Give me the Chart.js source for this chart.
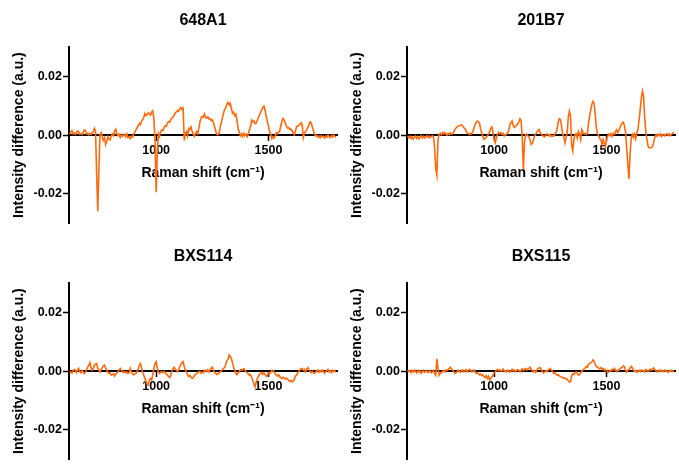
<!DOCTYPE html>
<html>
<head>
<meta charset="utf-8">
<script src="https://cdn.jsdelivr.net/npm/chart.js@4.4.1/dist/chart.umd.min.js"></script>
<style>
  html, body { margin: 0; padding: 0; background: #fff; overflow: hidden; }
  #wrap { position: relative; width: 679px; height: 472px; }
  canvas { position: absolute; }
</style>
</head>
<body>
<div id="wrap">
  <canvas id="p1" width="340" height="269" style="left:0;top:0"></canvas>
  <canvas id="p2" width="340" height="269" style="left:338px;top:0"></canvas>
  <canvas id="p3" width="340" height="269" style="left:0;top:236px"></canvas>
  <canvas id="p4" width="340" height="269" style="left:338px;top:236px"></canvas>
</div>
<script>
// Raman shift (cm-1), shared by all four spectra
const wavenumbers = [
  615, 620, 625, 630, 635, 640, 645, 650, 655, 660,
  665, 670, 675, 680, 685, 690, 695, 700, 705, 710,
  715, 720, 725, 730, 735, 740, 745, 750, 755, 760,
  765, 770, 775, 780, 785, 790, 795, 800, 805, 810,
  815, 820, 825, 830, 835, 840, 845, 850, 855, 860,
  865, 870, 875, 880, 885, 890, 895, 900, 905, 910,
  915, 920, 925, 930, 935, 940, 945, 950, 955, 960,
  965, 970, 975, 980, 985, 990, 995, 1000, 1005, 1010,
  1015, 1020, 1025, 1030, 1035, 1040, 1045, 1050, 1055, 1060,
  1065, 1070, 1075, 1080, 1085, 1090, 1095, 1100, 1105, 1110,
  1115, 1120, 1125, 1130, 1135, 1140, 1145, 1150, 1155, 1160,
  1165, 1170, 1175, 1180, 1185, 1190, 1195, 1200, 1205, 1210,
  1215, 1220, 1225, 1230, 1235, 1240, 1245, 1250, 1255, 1260,
  1265, 1270, 1275, 1280, 1285, 1290, 1295, 1300, 1305, 1310,
  1315, 1320, 1325, 1330, 1335, 1340, 1345, 1350, 1355, 1360,
  1365, 1370, 1375, 1380, 1385, 1390, 1395, 1400, 1405, 1410,
  1415, 1420, 1425, 1430, 1435, 1440, 1445, 1450, 1455, 1460,
  1465, 1470, 1475, 1480, 1485, 1490, 1495, 1500, 1505, 1510,
  1515, 1520, 1525, 1530, 1535, 1540, 1545, 1550, 1555, 1560,
  1565, 1570, 1575, 1580, 1585, 1590, 1595, 1600, 1605, 1610,
  1615, 1620, 1625, 1630, 1635, 1640, 1645, 1650, 1655, 1660,
  1665, 1670, 1675, 1680, 1685, 1690, 1695, 1700, 1705, 1710,
  1715, 1720, 1725, 1730, 1735, 1740, 1745, 1750, 1755, 1760,
  1765, 1770, 1775, 1780, 1785, 1790, 1795, 1800
];

// intensity differences in units of 0.001 a.u.
const diff648A1 = [
  0.3, 1.0, 1.5, 0.4, 0.8, 0.2, 0.6, 1.4, 1.2, 0.3,
  0.5, 0.2, 0.9, 1.8, 1.5, 0.4, 0.6, 0.1, 0.5, 0.2,
  0.9, 1.0, 2.3, 1.5, -13.0, -26.0, -12.0, 0.2, 0.8, -0.5,
  -1.8, -0.9, -3.2, -2.2, -0.6, -1.4, -1.6, -0.3, 0.4, -0.2,
  1.3, 2.0, 0.5, -0.2, 0.3, -0.8, 0.1, -0.4, -0.1, 0.2,
  -0.6, 0.4, -0.9, -0.5, -1.2, -0.4, -0.7, 0.3, 1.0, 1.8,
  2.5, 3.1, 4.0, 3.6, 4.8, 5.3, 6.1, 7.4, 6.6, 7.0,
  7.6, 7.2, 6.8, 7.9, 8.3, 5.5, -2.0, -19.5, -6.0, 0.5,
  -0.5, 1.2, 1.8, 1.5, 2.6, 3.2, 3.0, 4.1, 4.6, 4.4,
  5.3, 5.9, 6.1, 6.8, 7.6, 7.9, 8.4, 8.1, 8.9, 9.4,
  8.7, 9.2, -1.8, 0.5, 1.2, -0.3, 2.3, 1.9, 2.8, 1.4,
  0.3, -0.4, 0.6, 1.2, 0.5, 2.4, 4.6, 5.8, 6.4, 6.1,
  7.2, 6.0, 5.8, 6.2, 5.5, 5.6, 4.9, 5.2, 4.3, 2.9,
  1.4, 0.3, 0.1, 0.6, 2.8, 4.2, 5.9, 7.5, 8.8, 9.4,
  10.6, 11.2, 10.4, 10.8, 9.0, 7.4, 7.8, 6.6, 7.1, 4.9,
  2.1, 1.0, -0.3, 0.4, -0.5, 0.6, -0.2, 0.3, -0.6, 0.2,
  1.8, 2.8, 5.1, 4.5, 4.9, 3.9, 4.1, 5.0, 6.0, 6.8,
  7.9, 8.6, 9.5, 9.9, 8.4, 6.5, 4.6, 3.0, 1.2, 0.2,
  -1.2, -0.5, -1.0, -0.3, 0.8, 0.4, 1.0, 1.4, 3.2, 4.8,
  5.7, 5.1, 4.0, 3.0, 2.4, 2.6, 1.9, 2.1, 1.5, 0.7,
  0.1, 1.4, 2.8, 3.0, 3.4, 3.6, 4.2, 3.5, -0.9, 0.6,
  1.2, 1.8, 2.6, 3.4, 4.5, 4.2, 2.9, 1.4, 0.3, -0.3,
  -0.1, -0.7, -0.3, -0.9, -0.2, -0.6, -0.4, -1.0, -0.3, -0.7,
  0.1, -0.5, -0.9, -0.2, -0.6, 0.1, -0.4, -0.8
];

const diff201B7 = [
  -0.3, -0.9, -0.4, -1.2, -0.6, -1.4, -0.8, -0.3, -1.1, -0.5,
  -1.3, -0.7, -0.2, -0.9, -0.4, -1.0, -0.6, -0.2, -0.8, -0.3,
  -0.9, -0.5, -0.2, -0.6, -4.5, -11.5, -13.7, -1.5, 0.2, 0.6,
  0.1, 0.8, 0.3, 0.9, 0.4, 0.0, 0.6, 0.2, 0.7, 0.3,
  0.5, 1.0, 1.9, 2.4, 2.8, 3.1, 3.2, 3.4, 3.5, 3.1,
  2.6, 2.2, 1.4, 0.8, 0.5, 0.2, 0.6, 0.4, 1.2, 2.4,
  3.6, 4.4, 4.8, 4.5, 3.9, 2.0, 0.6, -0.6, -1.5, -1.0,
  -0.8, -0.2, 0.5, 1.2, 2.4, 2.8, 0.9, -1.6, -2.6, -1.0,
  0.2, 0.9, 0.5, 0.8, 0.2, 0.6, -0.3, 0.1, 0.2, 0.8,
  1.6, 3.6, 4.2, 4.8, 3.2, 2.6, 3.1, 3.4, 3.8, 4.6,
  5.6, 5.0, -0.8, -11.7, -2.5, 0.2, 0.4, -0.2, -0.6, -1.8,
  -3.2, -2.8, -1.6, -0.3, 0.4, 1.0, 1.6, 1.9, 0.8, 0.2,
  -0.1, -0.4, -0.6, 0.2, 0.4, 0.1, -0.3, 0.2, -0.5, -0.2,
  -0.4, 0.2, 0.8, 1.9, 4.5, 5.6, 5.3, 3.1, 0.2, -0.4,
  -2.6, -1.0, 0.9, 6.2, 8.2, 6.5, -3.4, -5.4, -1.5, 0.2,
  0.5, -1.0, 1.2, 0.4, -1.5, 1.9, 1.0, 0.4, 0.6, 0.2,
  0.5, 4.0, 6.5, 8.6, 10.5, 11.5, 10.8, 7.0, 2.5, 0.4,
  -0.2, -1.2, -1.6, -3.2, -1.5, -2.8, -4.0, -1.6, -0.3, 0.3,
  -0.2, 0.5, -0.4, 0.6, 0.3, 1.2, 1.8, 0.8, 1.6, 2.6,
  3.4, 4.2, 4.4, 3.2, 1.0, -4.5, -10.0, -15.0, -6.5, -1.0,
  0.2, -0.8, 0.4, -1.2, 0.6, 1.9, 5.0, 8.7, 12.5, 15.0,
  13.3, 6.0, 1.2, -1.5, -3.8, -4.3, -4.4, -4.2, -4.0, -2.5,
  -0.8, 0.1, -0.4, 0.3, -0.2, 0.4, -0.5, 0.1, 0.3, -0.3,
  0.2, 0.5, -0.1, 0.4, -0.2, 0.3, 0.6, 0.9
];

const diffBXS114 = [
  -0.4, -0.2, -0.7, 0.1, 0.6, 0.3, -0.5, 0.4, 0.9, -0.2,
  -0.6, 0.2, -0.3, -0.8, -0.4, 0.3, 1.4, 2.0, 2.9, 1.2,
  0.3, 0.8, 2.0, 2.4, 2.6, 1.0, 0.2, -0.3, 0.5, 1.2,
  1.8, 2.0, 1.0, 0.3, -0.4, -0.8, -0.5, -1.4, -1.2, -0.9,
  -1.7, -1.1, -0.6, -0.2, 0.4, 0.9, 0.3, -0.2, -0.5, -0.1,
  -0.6, -0.3, -0.8, -0.5, 0.9, -0.4, -1.0, -1.3, -0.9, -0.8,
  -0.2, 0.6, 2.0, 2.6, 1.2, -0.6, -1.4, -2.5, -3.7, -4.4,
  -4.8, -3.0, -2.5, -3.0, -1.2, 1.0, 2.6, 3.2, 1.1, -0.4,
  -0.8, -0.4, -0.2, -0.6, -0.1, -0.4, -1.0, -1.3, -1.8, -2.2,
  -1.6, 0.2, 0.9, 1.3, 0.6, 0.4, -0.2, 0.3, 1.5, 2.2,
  2.9, 3.2, 1.6, 0.4, -0.4, -1.2, -1.8, -1.4, -2.0, -2.5,
  -2.3, -1.5, -1.2, -0.9, -0.5, -0.2, -0.1, -0.7, -0.3, -0.6,
  0.2, 0.3, -0.2, 0.4, -0.3, 0.6, 1.0, 1.3, 0.4, -0.5,
  -0.8, -1.2, -1.0, -0.6, -0.3, 0.1, 0.5, 0.9, 1.2, 2.3,
  3.6, 4.0, 5.5, 4.9, 4.3, 2.8, 1.2, 0.2, -0.8, -1.2,
  -0.6, -0.2, 0.4, 0.6, 0.3, 0.8, 0.4, -0.2, -0.5, -0.9,
  -1.4, -1.2, -2.2, -3.1, -4.4, -5.4, -4.0, -2.6, -1.8, -1.0,
  -0.8, -0.5, -1.1, -0.6, -1.2, -1.8, -1.4, -0.6, -1.0, -0.4,
  0.3, 0.2, -0.3, -0.9, -1.4, -1.7, -1.2, -1.9, -2.3, -2.5,
  -2.1, -2.3, -2.7, -2.4, -2.8, -3.1, -3.5, -3.2, -3.7, -3.4,
  -2.8, -1.7, -1.4, -0.6, -0.1, 0.4, 0.9, 0.8, 0.3, 0.6,
  -0.2, 0.7, 1.2, 0.6, -0.2, -0.5, -0.1, -0.6, -0.8, -0.3,
  0.2, 0.4, -0.4, 0.1, -0.3, 0.3, -0.2, -0.7, -0.1, 0.2,
  0.6, -0.3, 0.1, -0.5, 0.3, -0.2, 0.1, -0.4
];

const diffBXS115 = [
  0.3, -0.2, 0.1, -0.5, 0.2, -0.3, 0.4, -0.1, -0.6, 0.2,
  -0.3, 0.1, -0.7, -0.2, 0.3, -0.4, -0.1, 0.2, -0.5, -0.2,
  0.1, -0.6, -0.3, 0.2, -0.8, -1.4, 4.2, 0.9, -1.4, -0.8,
  -0.6, -0.1, 0.2, -0.3, 0.4, 0.2, 0.6, 0.9, 1.3, 0.8,
  0.4, -0.2, -0.8, -0.6, -0.2, 0.3, -0.1, -0.4, 0.2, 0.4,
  -0.3, 0.1, 0.5, -0.2, 0.3, 0.6, 0.2, -0.3, -0.1, 0.4,
  -0.2, -0.8, -0.5, -0.9, -1.3, -1.0, -1.5, -1.3, -1.9, -2.2,
  -1.6, -2.5, -1.8, -3.1, -2.4, -2.0, -1.3, -0.6, -0.2, 0.3,
  0.6, 0.2, 0.5, -0.1, 0.3, 0.7, -0.2, 0.1, -0.3, 0.3,
  0.0, -0.4, 0.2, 0.6, 0.1, 0.4, -0.2, 0.3, 0.5, 0.1,
  -0.3, 0.4, 0.8, 0.2, 0.6, 0.9, 0.3, 0.7, 1.0, 1.3,
  0.6, 0.2, -0.3, 0.1, -0.4, 0.3, 0.9, 1.1, 1.2, 0.4,
  -0.2, -0.6, -0.3, 0.1, -0.2, 0.4, 0.6, 0.9, 0.3, -0.2,
  -0.8, -0.6, -1.0, -1.4, -1.2, -1.6, -1.9, -2.0, -2.3, -2.2,
  -2.6, -2.5, -2.9, -3.3, -3.7, -3.5, -1.5, -0.9, -1.2, -0.6,
  -0.3, -0.8, -1.4, -1.3, -0.6, 0.0, 0.3, 0.8, 1.0, 1.6,
  1.3, 2.4, 2.6, 2.8, 3.1, 3.8, 3.4, 2.2, 1.6, 1.4,
  1.0, 0.8, 1.2, 0.6, 0.9, 0.3, 0.6, 0.1, -0.4, -0.3,
  0.2, 0.1, 0.6, 0.4, 0.9, 0.3, -0.2, 0.4, 0.2, 0.7,
  1.1, 1.3, 1.8, 1.5, 0.2, -0.4, 0.3, 0.6, 1.0, 1.6,
  1.2, 0.3, -0.1, 0.2, -0.4, 0.1, 0.3, -0.2, 0.4, 0.0,
  0.2, -0.3, 0.5, 0.3, -0.1, 0.4, 0.6, 0.2, 0.8, 1.1,
  0.5, 0.1, -0.3, 0.2, 0.4, -0.1, 0.3, -0.2, 0.1, 0.4,
  -0.2, 0.0, -0.4, 0.2, -0.1, 0.3, -0.2, 0.1
];

const panelTitles = ['648A1', '201B7', 'BXS114', 'BXS115'];
const xTicks = [1000, 1500];
const yTicks = [-0.02, 0, 0.02];
const MILLI = 0.001;

Chart.defaults.font.family = "'Liberation Sans', Arial, sans-serif";
Chart.defaults.color = '#000';

function makePanel(id, title, values) {
  const points = wavenumbers.map((w, i) => ({ x: w, y: values[i] * MILLI }));
  return new Chart(document.getElementById(id), {
    type: 'line',
    data: {
      datasets: [{
        data: points,
        borderColor: '#FF6A0E',
        borderWidth: 1.6,
        pointRadius: 0,
        tension: 0,
        fill: false
      }]
    },
    options: {
      responsive: false,
      animation: false,
      events: [],
      // the x axis sits on y = 0, so the bottom strip is kept free by padding
      layout: { padding: { left: 0, right: 3, top: 0, bottom: 46 } },
      plugins: {
        legend: { display: false },
        tooltip: { enabled: false },
        title: {
          display: true,
          text: title,
          fullSize: false,
          color: '#000',
          font: { size: 16, weight: 'bold' },
          padding: { top: 11, bottom: 17 }
        }
      },
      scales: {
        x: {
          type: 'linear',
          position: { y: 0 },
          min: 612,
          max: 1805,
          afterBuildTicks: s => { s.ticks = xTicks.map(v => ({ value: v })); },
          afterFit: s => { s.height = 46; },
          grid: { drawOnChartArea: false, drawTicks: true, tickLength: 5, tickWidth: 1.5, tickColor: '#000' },
          border: { display: true, color: '#000', width: 2 },
          ticks: {
            font: { size: 12.5, weight: 'bold' },
            padding: 3,
            maxRotation: 0,
            autoSkip: false,
            callback: v => String(v)
          },
          title: {
            display: true,
            text: 'Raman shift (cm⁻¹)',
            font: { size: 14, weight: 'bold' },
            padding: { top: 0, bottom: 0 }
          }
        },
        y: {
          type: 'linear',
          position: 'left',
          min: -0.03,
          max: 0.03,
          afterBuildTicks: s => { s.ticks = yTicks.map(v => ({ value: v })); },
          afterFit: s => { s.width = 69; },
          grid: { drawOnChartArea: false, drawTicks: true, tickLength: 6, tickWidth: 1.5, tickColor: '#000' },
          border: { display: true, color: '#000', width: 2 },
          ticks: {
            font: { size: 12.5, weight: 'bold' },
            padding: 1,
            callback: v => v.toFixed(2)
          },
          title: {
            display: true,
            text: 'Intensity difference (a.u.)',
            font: { size: 14, weight: 'bold' },
            padding: { top: 11, bottom: 0 }
          }
        }
      }
    }
  });
}

makePanel('p1', panelTitles[0], diff648A1);
makePanel('p2', panelTitles[1], diff201B7);
makePanel('p3', panelTitles[2], diffBXS114);
makePanel('p4', panelTitles[3], diffBXS115);
</script>
</body>
</html>
